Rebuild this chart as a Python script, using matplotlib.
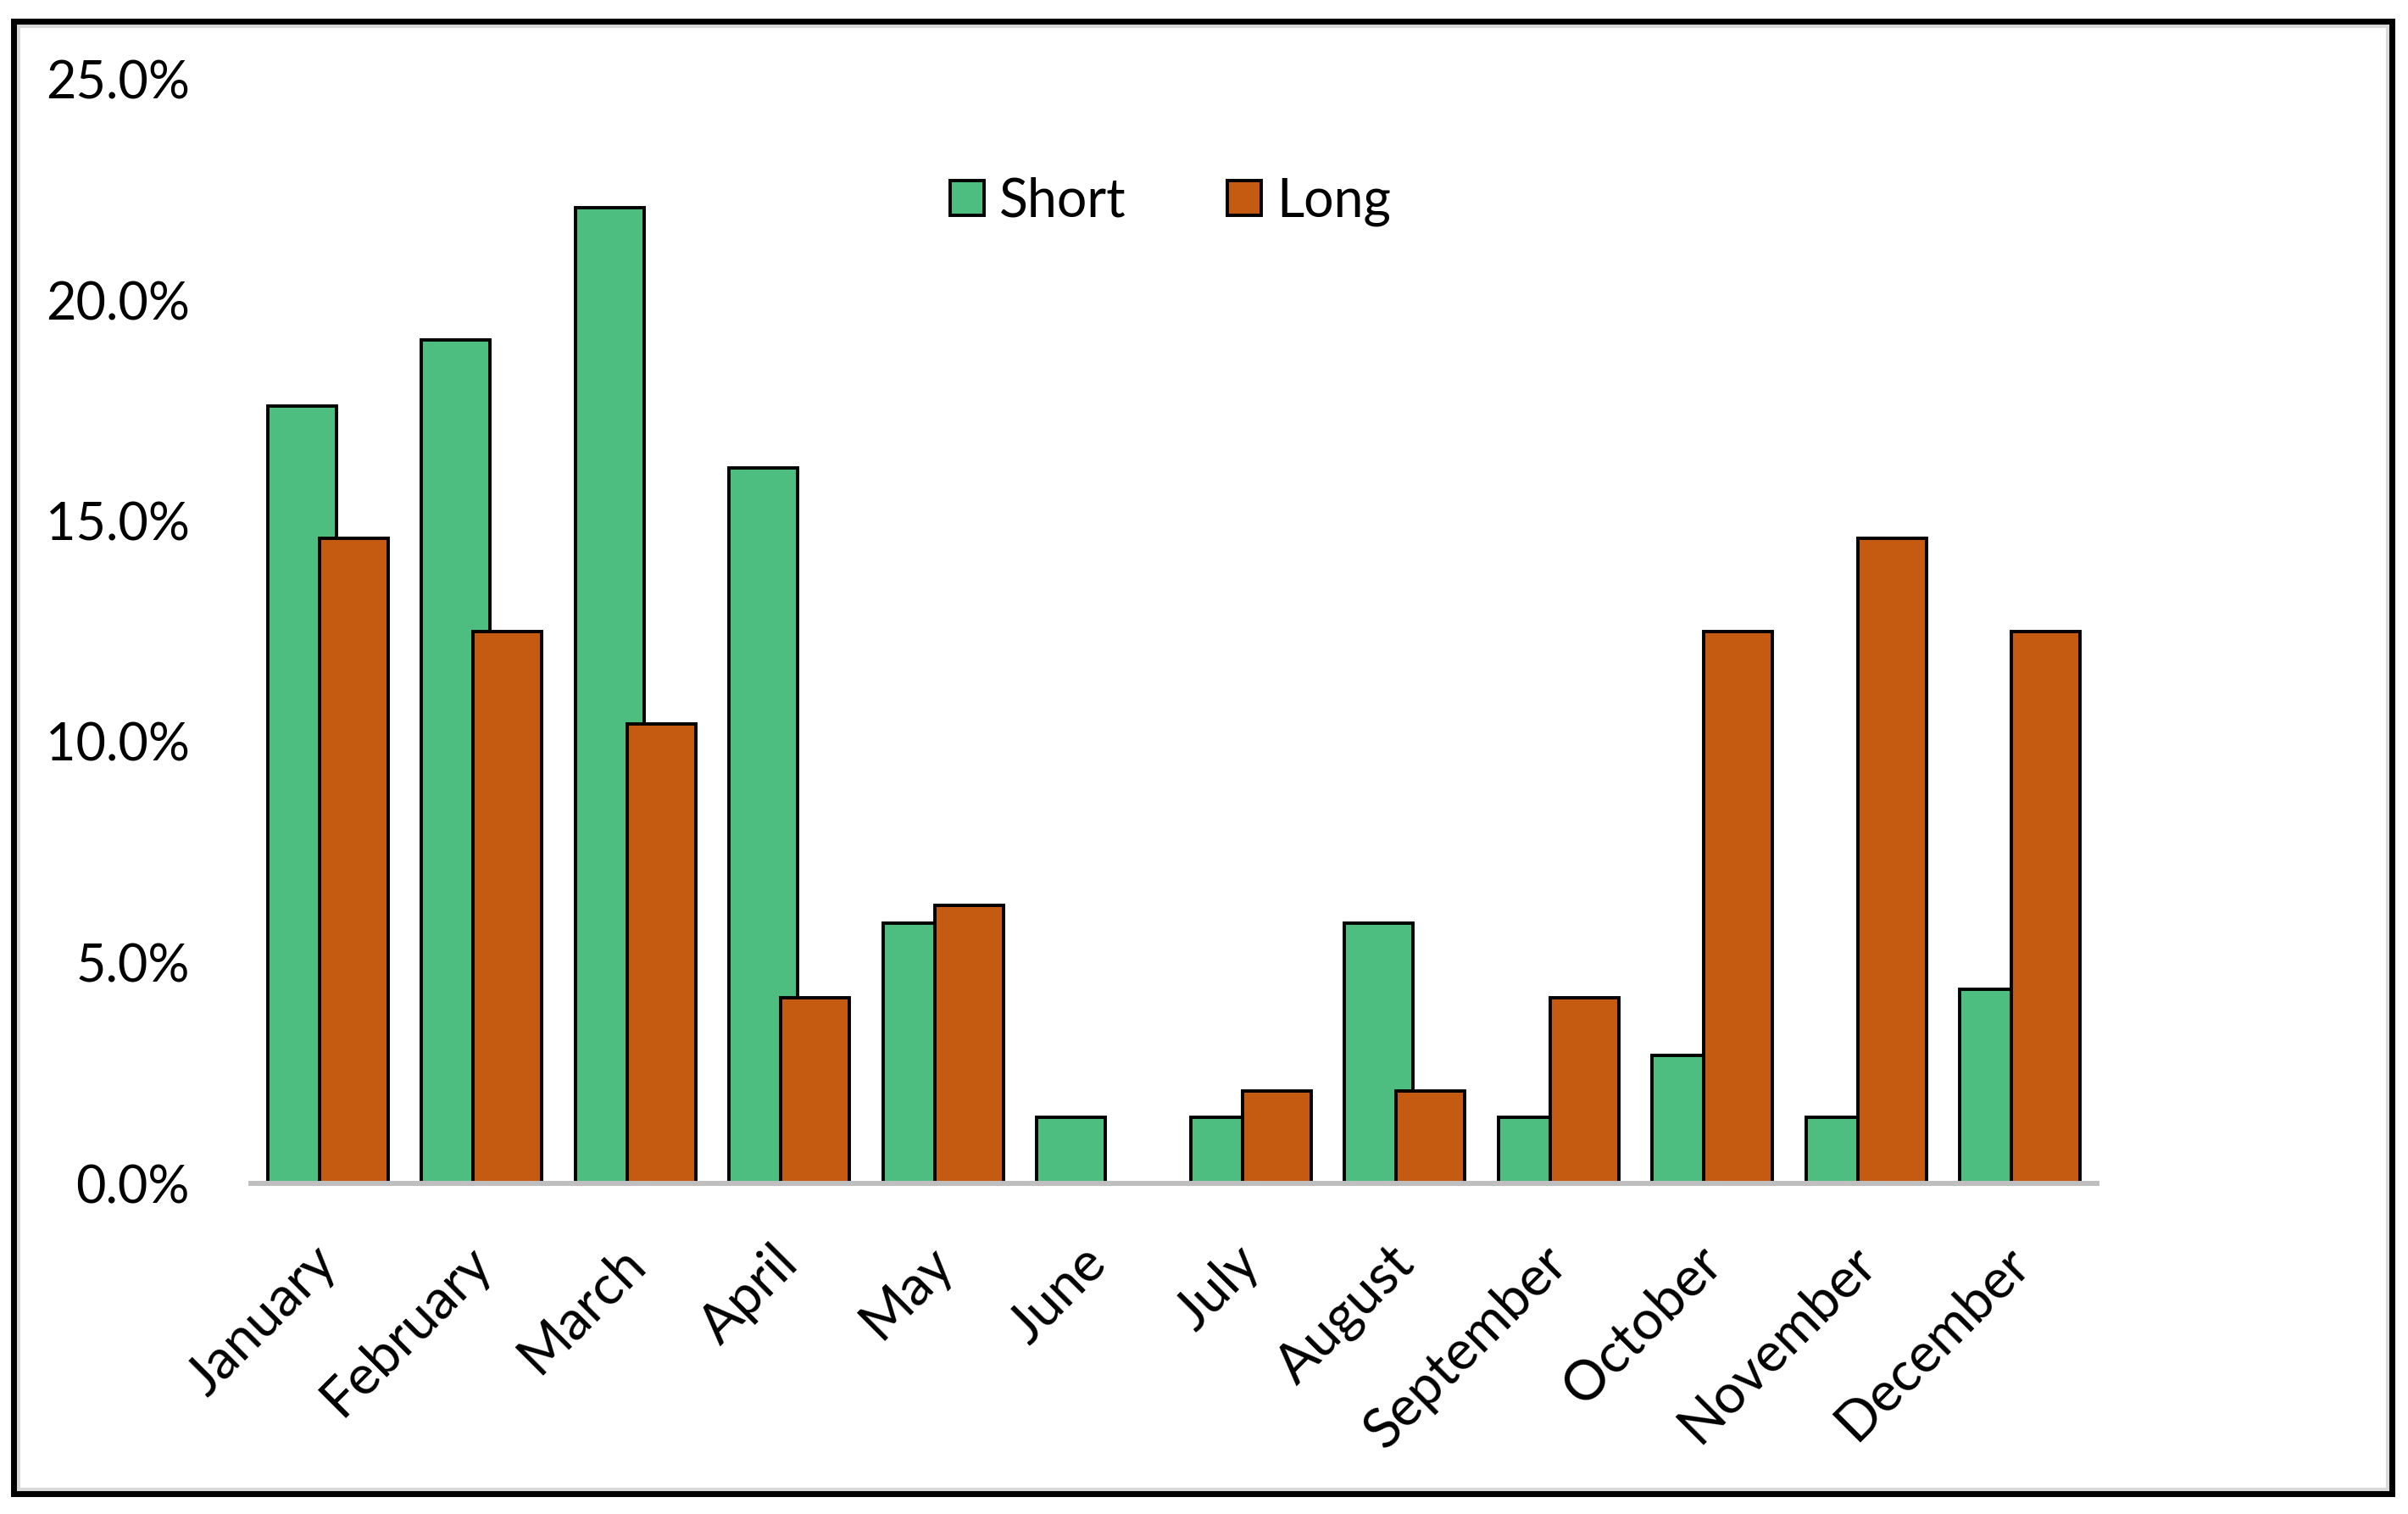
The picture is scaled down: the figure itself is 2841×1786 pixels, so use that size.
import matplotlib
matplotlib.use("Agg")
import matplotlib.pyplot as plt
from matplotlib.patches import Rectangle
from matplotlib.transforms import ScaledTranslation
import numpy as np

plt.rcParams['font.family'] = ['Lato', 'DejaVu Sans']

months = ["January", "February", "March", "April", "May", "June",
          "July", "August", "September", "October", "November", "December"]
short_vals = [17.6, 19.1, 22.1, 16.2, 5.9, 1.5, 1.5, 5.9, 1.5, 2.9, 1.5, 4.4]
long_vals = [14.6, 12.5, 10.4, 4.2, 6.3, 0.0, 2.1, 2.1, 4.2, 12.5, 14.6, 12.5]
yticks = [0, 5, 10, 15, 20, 25]
series_names = ["Short", "Long"]

GREEN = "#4EBE80"
ORANGE = "#C55A11"

W, H = 2841, 1786
fig = plt.figure(figsize=(W / 100, H / 100), dpi=100)
fig.patch.set_facecolor("white")

ax_left, ax_right = 296 / W, 2474 / W
ax_bottom, ax_top = 1 - 1396 / H, 1 - 93.5 / H
ax = fig.add_axes([ax_left, ax_bottom, ax_right - ax_left, ax_top - ax_bottom])

x = np.arange(len(months))
bw = 0.445
off = 0.1675
b1 = ax.bar(x - off, short_vals, width=bw, color=GREEN, edgecolor="black",
            linewidth=2.8, zorder=2, label=series_names[0])
b2 = ax.bar(x + off, long_vals, width=bw, color=ORANGE, edgecolor="black",
            linewidth=2.8, zorder=3, label=series_names[1])

ax.set_xlim(-0.5, 11.5)
ax.set_ylim(0, 25)
ax.set_yticks(yticks)
ax.set_yticklabels([f"{v:.1f}%" for v in yticks], fontsize=44)
ax.tick_params(axis="y", length=0, pad=52)

for s in ["top", "right", "left"]:
    ax.spines[s].set_visible(False)
ax.spines["bottom"].set_color("#BFBFBF")
ax.spines["bottom"].set_linewidth(4.3)
ax.spines["bottom"].set_zorder(5)

ax.set_xticks(x)
ax.set_xticklabels(months, fontsize=46.5, rotation=45, ha="right",
                   va="baseline", rotation_mode="anchor")
ax.tick_params(axis="x", length=0, pad=70)
shift = ScaledTranslation(14 / 100, 0, fig.dpi_scale_trans)
for lab in ax.get_xticklabels():
    lab.set_transform(lab.get_transform() + shift)

leg = ax.legend(handles=[b1, b2], labels=series_names, loc="center",
                bbox_to_anchor=(1381 / W, 1 - 238 / H),
                bbox_transform=fig.transFigure, ncol=2, frameon=False,
                fontsize=45, handlelength=0.64, handleheight=0.64,
                handletextpad=0.3, columnspacing=1.9, borderpad=0)

# outer frame of the picture
fig.patches.append(Rectangle((15.5 / W, 1 - 1761.5 / H), (2821.5 - 15.5) / W,
                             (1761.5 - 24.5) / H, transform=fig.transFigure,
                             fill=False, edgecolor="black", linewidth=5.0,
                             joinstyle="miter", zorder=10))
fig.patches.append(Rectangle((21.5 / W, 1 - 1757 / H), (2817 - 21.5) / W,
                             (1757 - 30.5) / H, transform=fig.transFigure,
                             fill=False, edgecolor="#D9D9D9", linewidth=2.9,
                             joinstyle="miter", zorder=9))

fig.savefig("out.png", dpi=100, facecolor="white")
